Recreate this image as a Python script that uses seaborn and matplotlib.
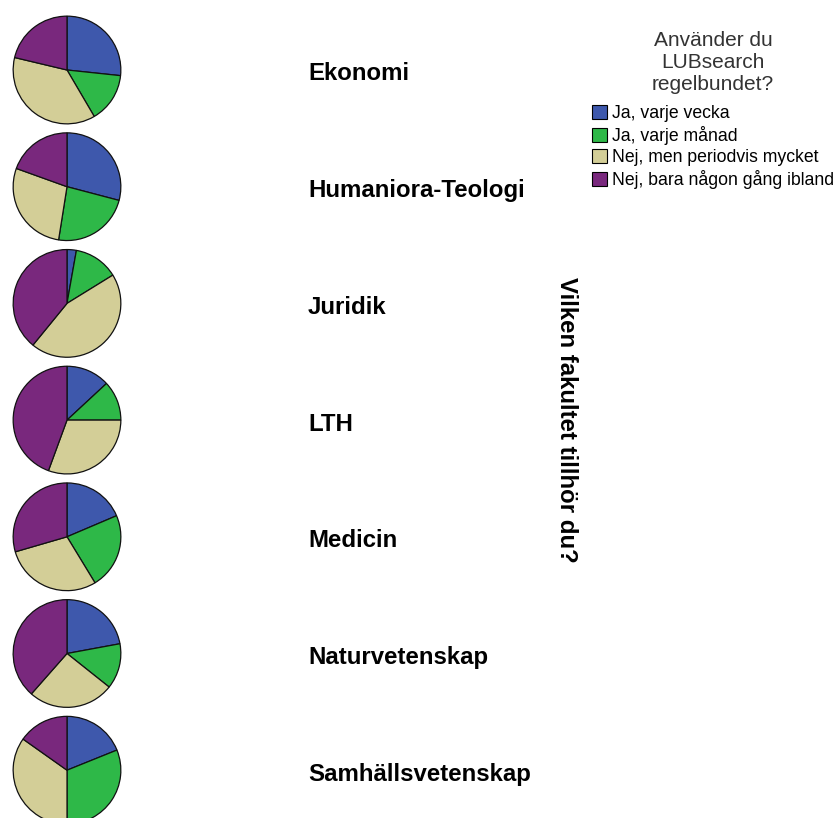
import numpy as np
import pandas as pd
import matplotlib
matplotlib.use("Agg")
import matplotlib.pyplot as plt
import seaborn as sns
from matplotlib.patches import Patch

# Data (percent share per faculty)
fakulteter = ["Ekonomi", "Humaniora-Teologi", "Juridik", "LTH",
              "Medicin", "Naturvetenskap", "Samhällsvetenskap"]
svar = ["Ja, varje vecka", "Ja, varje månad",
        "Nej, men periodvis mycket", "Nej, bara någon gång ibland"]
ja_vecka = [26.7, 29.1, 2.8, 13.1, 18.6, 22.1, 18.9]
ja_manad = [14.9, 23.4, 13.4, 11.9, 22.7, 13.6, 31.1]
nej_period = [37.2, 28.0, 44.7, 30.6, 29.2, 25.8, 34.8]
nej_ibland = [21.3, 19.5, 39.1, 44.4, 29.5, 38.5, 15.2]

df = pd.DataFrame({svar[0]: ja_vecka, svar[1]: ja_manad,
                   svar[2]: nej_period, svar[3]: nej_ibland},
                  index=fakulteter)

sns.set_style("white")
plt.rcParams['font.family'] = ['Liberation Sans', 'DejaVu Sans']
plt.rcParams['text.color'] = 'black'
colors = sns.color_palette(["#3e58ac", "#2eb848", "#d3ce97", "#79287d"])

W, H = 837, 818
fig = plt.figure(figsize=(W / 100, H / 100), dpi=100)

cx, r = 67, 54
y0, dy = 70, 116.7
for i, fak in enumerate(df.index):
    cy = y0 + i * dy
    ax = fig.add_axes([(cx - r - 2) / W, 1 - (cy + r + 2) / H,
                       (2 * r + 4) / W, (2 * r + 4) / H])
    ax.pie(df.loc[fak].values, colors=colors, startangle=90, counterclock=False,
           wedgeprops=dict(edgecolor="#111111", linewidth=0.9), radius=1.0)
    ax.set_xlim(-1.04, 1.04)
    ax.set_ylim(-1.04, 1.04)
    ax.set_aspect("equal")
    ax.axis("off")
    fig.text(308 / W, 1 - (cy + 4) / H, fak, fontsize=17.3, fontweight="bold",
             ha="left", va="center")

fig.text(567 / W, 1 - 420 / H, "Vilken fakultet tillhör du?", fontsize=17.3,
         fontweight="bold", rotation=270, ha="center", va="center")

# legend title as separate text, centred over the entries
fig.text(713 / W, 1 - 62 / H, "Använder du\nLUBsearch\nregelbundet?",
         fontsize=15, color="#333333", ha="center", va="center",
         multialignment="center", linespacing=1.2)

handles = [Patch(facecolor=c, edgecolor="black", linewidth=0.8) for c in colors]
leg = fig.legend(handles, svar, loc="upper left",
                 bbox_to_anchor=(592 / W, 1 - 105 / H),
                 frameon=False, fontsize=12.7,
                 handlelength=0.85, handleheight=0.85, handletextpad=0.3,
                 labelspacing=0.23, borderaxespad=0, borderpad=0)

fig.savefig("out.png", dpi=100)
